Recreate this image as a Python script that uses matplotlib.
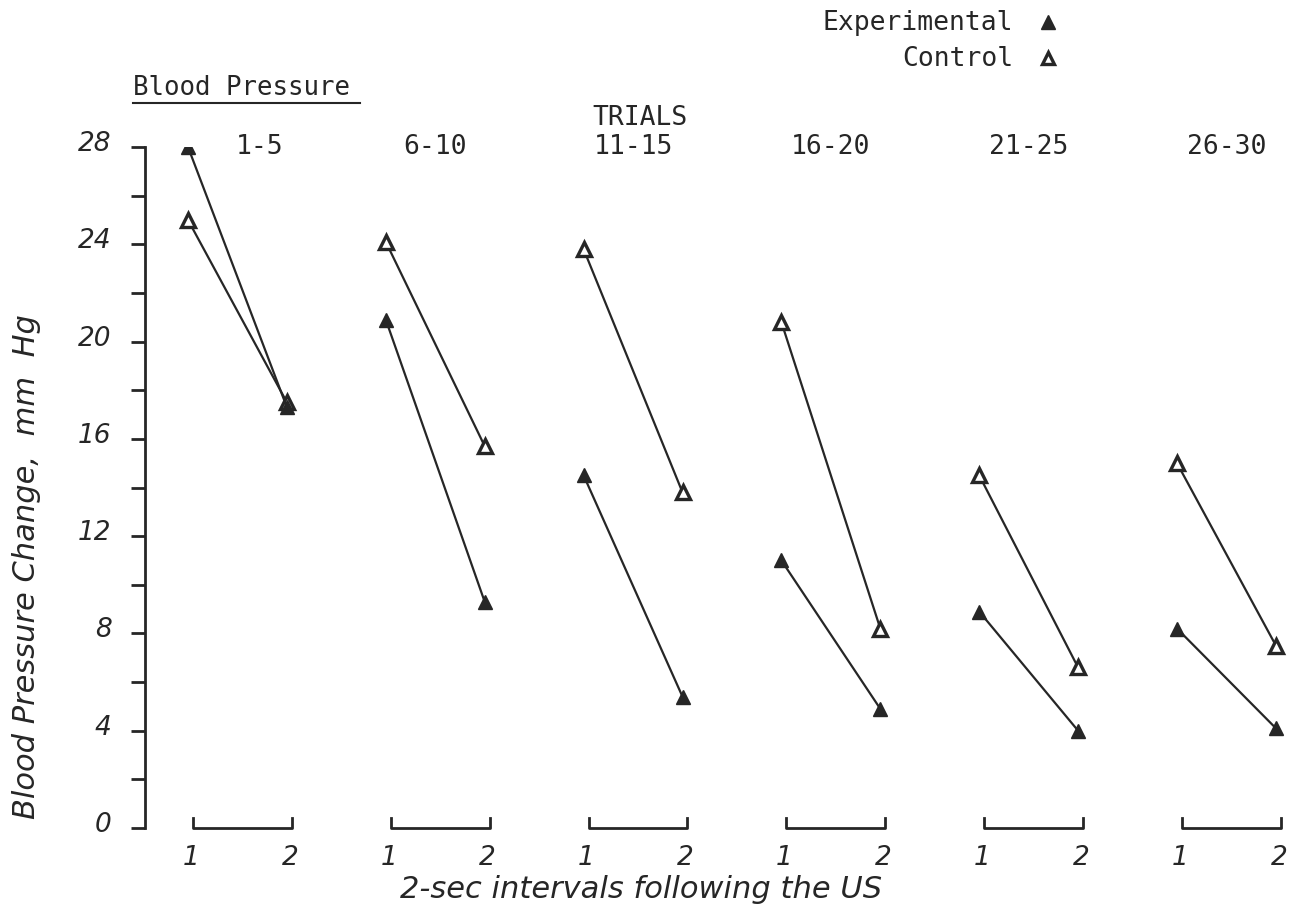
import matplotlib
matplotlib.use("Agg")
import matplotlib.pyplot as plt
from matplotlib.ticker import MultipleLocator, FuncFormatter
from matplotlib.lines import Line2D
import matplotlib.transforms as mtransforms

# trial blocks and values (mm Hg)
groups = ['1-5', '6-10', '11-15', '16-20', '21-25', '26-30']
interval_labels = ['1', '2']
exp_first = [28.0, 20.9, 14.5, 11.0, 8.9, 8.2]
exp_second = [17.3, 9.3, 5.4, 4.9, 4.0, 4.1]
ctl_first = [25.0, 24.1, 23.8, 20.8, 14.5, 15.0]
ctl_second = [17.5, 15.7, 13.8, 8.2, 6.6, 7.5]

INK = '#262626'
MONO = 'DejaVu Sans Mono'
GAP = 2.0

fig = plt.figure(figsize=(12.92, 9.19), dpi=100)
W, H = 1292, 919
ax = fig.add_axes([145 / W, (H - 828) / H, (1290 - 145) / W, (828 - 147) / H])

xpos = []
for g in range(len(groups)):
    x = [g * GAP, g * GAP + 1]
    xpos += x
    ax.plot(x, [ctl_first[g], ctl_second[g]], color=INK, lw=1.6, marker='^',
            ms=10, mfc='white', mec=INK, mew=2.4, zorder=3)
    ax.plot(x, [exp_first[g], exp_second[g]], color=INK, lw=1.6, marker='^',
            ms=10, mfc=INK, mec=INK, zorder=4)
    # bracket under each pair
    bx = [x[0] + 0.05, x[0] + 0.05, x[1] + 0.05, x[1] + 0.05]
    ax.plot(bx, [0.4, 0, 0, 0.4], color=INK, lw=2, clip_on=False)
    cx = g * GAP + (0.72 if g == 0 else 0.5)
    ax.text(cx, 28, groups[g], family=MONO, fontsize=19, color=INK,
            ha='center', va='center')

ax.set_xlim(-43 / 98.9, -43 / 98.9 + 1145 / 98.9)
ax.set_ylim(0, 28)

for s in ['top', 'right', 'bottom']:
    ax.spines[s].set_visible(False)
ax.spines['left'].set_linewidth(2)
ax.spines['left'].set_color(INK)

ax.yaxis.set_major_locator(MultipleLocator(2))
ax.yaxis.set_major_formatter(FuncFormatter(lambda v, p: '%d' % v if int(round(v)) % 4 == 0 else ''))
ax.tick_params(axis='y', direction='out', length=10, width=2, color=INK, pad=14,
               labelsize=19, labelcolor=INK)
for lab in ax.get_yticklabels():
    lab.set_fontstyle('italic')
    lab.set_transform(lab.get_transform() + mtransforms.ScaledTranslation(0, 6 / 100, fig.dpi_scale_trans))

ax.set_xticks([p + 0.03 for p in xpos])
ax.set_xticklabels(interval_labels * len(groups), fontstyle='italic', fontsize=19, color=INK)
ax.tick_params(axis='x', length=0, pad=12)

fig.text(27 / W, (H - 567) / H, 'Blood Pressure Change,  mm  Hg', rotation=90,
         fontstyle='italic', fontsize=22, color=INK, ha='center', va='center')
fig.text(641 / W, (H - 890) / H, '2-sec intervals following the US',
         fontstyle='italic', fontsize=22, color=INK, ha='center', va='center')

fig.text(133 / W, (H - 88) / H, 'Blood Pressure', family=MONO, fontsize=18.5,
         color=INK, ha='left', va='center')
fig.add_artist(Line2D([133 / W, 360 / W], [(H - 103) / H] * 2, color=INK, lw=1.5))
fig.text(640 / W, (H - 118) / H, 'TRIALS', family=MONO, fontsize=19,
         color=INK, ha='center', va='center')

# legend
fig.text(1013 / W, (H - 23) / H, 'Experimental', family=MONO, fontsize=19,
         color=INK, ha='right', va='center')
fig.text(1013 / W, (H - 59) / H, 'Control', family=MONO, fontsize=19,
         color=INK, ha='right', va='center')
fig.add_artist(Line2D([1048 / W], [(H - 22) / H], marker='^', ms=10, mfc=INK, mec=INK, ls='none'))
fig.add_artist(Line2D([1048 / W], [(H - 58) / H], marker='^', ms=9, mfc='white', mec=INK,
                      mew=2.4, ls='none'))

fig.savefig('out.png', dpi=100)
